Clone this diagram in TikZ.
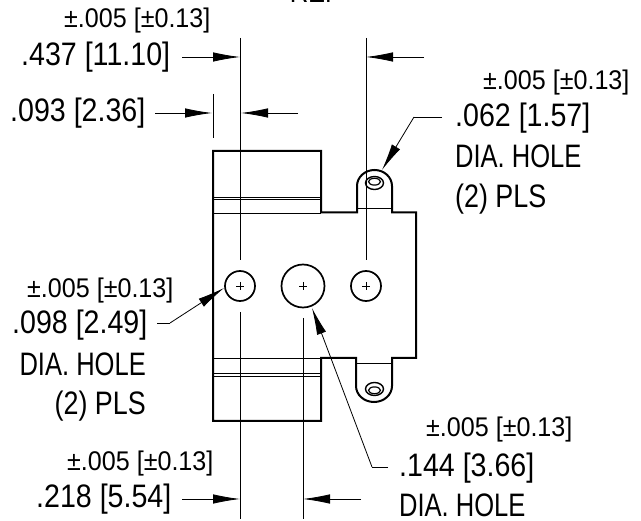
\documentclass[tikz,border=0pt]{standalone}
\usepackage{fontspec}
\setmainfont{Liberation Sans}
\usetikzlibrary{arrows.meta}
\tikzset{
  x=1pt,y=-1pt,
  body/.style={line width=2pt,line join=miter},
  thin line/.style={line width=0.8pt},
  dim/.style={line width=0.8pt,-{Latex[length=27pt,width=9.5pt]}},
  big/.style={font=\fontsize{32.5}{32.5}\selectfont,xscale=0.88,inner sep=0pt},
  caps/.style={big,xscale=0.893},
  pls/.style={big,xscale=0.94},
  tol/.style={font=\fontsize{27}{27}\selectfont,xscale=0.93,inner sep=0pt}
}
\begin{document}
\begin{tikzpicture}
\useasboundingbox (0,0) rectangle (641,521);
% body outline
\draw[body] (213,151) -- (321,151) -- (321,212.5) -- (357,212.5) -- (357,186) arc (180:360:17.5 and 16) -- (392,212.5) -- (416,212.5) -- (416,358) -- (392,358) -- (392,386) arc (0:180:18 and 16) -- (356,358) -- (321,358) -- (321,421) -- (213,421) -- cycle;
% bends
\draw[thin line] (213,197) -- (321,197) (213,199.5) -- (321,199.5) (213,213) -- (321,213);
\draw[thin line] (213,358) -- (321,358) (213,373) -- (321,373) (213,376) -- (321,376);
\draw[thin line] (357,208) -- (392,208) (357,363) -- (392,363);
% holes
\node[circle,draw,line width=1.7pt,minimum size=30pt,inner sep=0pt] (holeA) at (240,286) {};
\node[circle,draw,line width=1.7pt,minimum size=43pt,inner sep=0pt] (holeB) at (303,286) {};
\node[circle,draw,line width=1.7pt,minimum size=30pt,inner sep=0pt] (holeC) at (366,286) {};
\foreach \cx in {240,303,366}
  \draw[thin line] (\cx-4,286) -- (\cx+4,286) (\cx,282) -- (\cx,290);
% tab holes
\foreach \cy/\sg in {183/-1,389/1}{
  \draw[line width=1.4pt] (374.5,\cy) ellipse (9 and 6.5);
  \draw[line width=1.2pt] (374.5,\cy+\sg*1.3) ellipse (6 and 3.4);
}
% extension lines
\draw[thin line] (240,38) -- (240,260);
\draw[thin line] (213,94) -- (213,138);
\draw[thin line] (366,38) -- (366,260);
\draw[thin line] (240,312) -- (240,519);
\draw[thin line] (303,318) -- (303,519);
% dimensions
\coordinate (a1) at (182,57); \coordinate (a2) at (240,57);
\coordinate (b1) at (155,113); \coordinate (b2) at (212,113);
\coordinate (c1) at (298,113); \coordinate (c2) at (241,113);
\coordinate (d1) at (424,57); \coordinate (d2) at (366,57);
\coordinate (e1) at (182,499); \coordinate (e2) at (240,499);
\coordinate (f1) at (361,499); \coordinate (f2) at (303,499);
\draw[dim] (a1) -- (a2);
\draw[dim] (b1) -- (b2);
\draw[dim] (c1) -- (c2);
\draw[dim] (d1) -- (d2);
\draw[dim] (e1) -- (e2);
\draw[dim] (f1) -- (f2);
% leaders
\coordinate (g1) at (442,117); \coordinate (g2) at (414,117); \coordinate (g3) at (382,170);
\coordinate (h1) at (157,323); \coordinate (h2) at (170,323); \coordinate (h3) at (224,288);
\coordinate (i1) at (388,467); \coordinate (i2) at (372,467); \coordinate (i3) at (312,308);
\draw[thin line] (g1) -- (g2);
\draw[dim] (g2) -- (g3);
\draw[thin line] (h1) -- (h2);
\draw[dim] (h2) -- (h3);
\draw[thin line] (i1) -- (i2);
\draw[dim] (i2) -- (i3);
% text
\node[caps,anchor=east] (ref) at (341,-8.4) {REF};
\node[tol,anchor=west] (tolA) at (64,21) {±.005 [±0.13]};
\node[big,anchor=west] (valA) at (21,57) {.437 [11.10]};
\node[big,anchor=west] (valB) at (10,113) {.093 [2.36]};
\node[tol,anchor=west] (tolC) at (483,83) {±.005 [±0.13]};
\node[big,anchor=west] (valC) at (455,118) {.062 [1.57]};
\node[caps,anchor=west] (diaC) at (455,156.5) {DIA. HOLE};
\node[pls,anchor=west] (plsC) at (455,199) {(2) PLS};
\node[tol,anchor=west] (tolD) at (27,291) {±.005 [±0.13]};
\node[big,anchor=west] (valD) at (12,325) {.098 [2.49]};
\node[caps,anchor=east] (diaD) at (146,364) {DIA. HOLE};
\node[pls,anchor=east] (plsD) at (146,406) {(2) PLS};
\node[tol,anchor=west] (tolE) at (67,464) {±.005 [±0.13]};
\node[big,anchor=west] (valE) at (36,499) {.218 [5.54]};
\node[tol,anchor=west] (tolF) at (426,430) {±.005 [±0.13]};
\node[big,anchor=west] (valF) at (399,468) {.144 [3.66]};
\node[caps,anchor=west] (diaF) at (399,505) {DIA. HOLE};
\end{tikzpicture}
\end{document}
